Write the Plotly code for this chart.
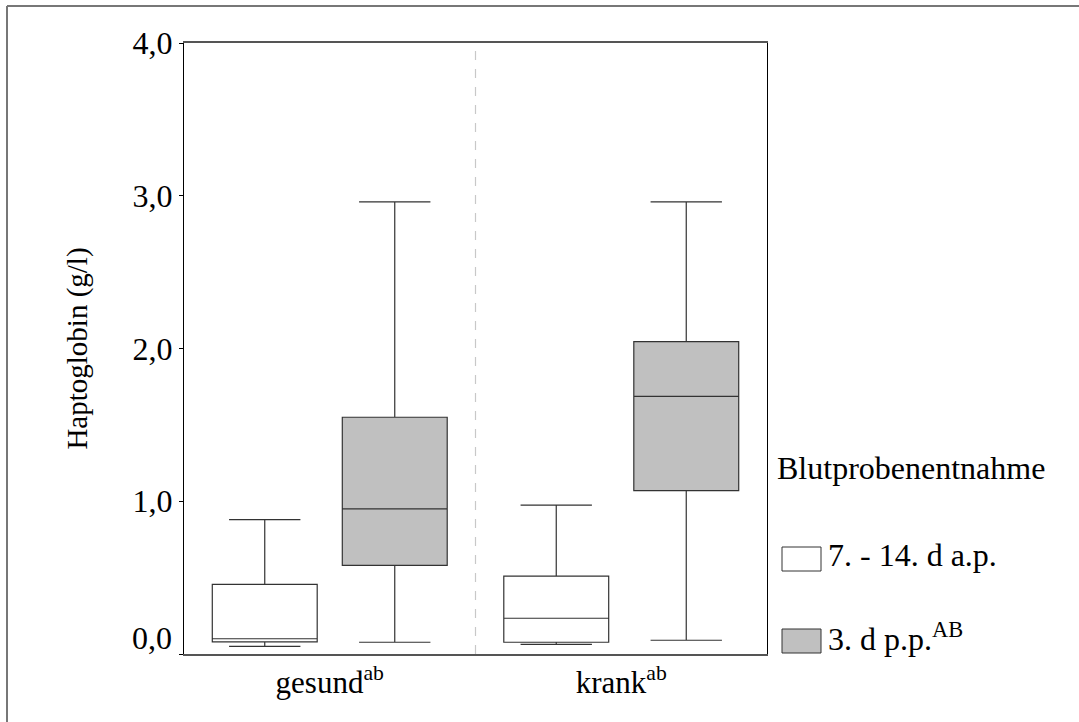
import plotly.graph_objects as go

# ---- data ----
categories = ["gesund<sup>ab</sup>", "krank<sup>ab</sup>"]
series_names = ["7. - 14. d a.p.", "3. d p.p.<sup>AB</sup>"]

# 7. - 14. d a.p.
ap_lower = [0.05, 0.063]
ap_q1 = [0.08, 0.077]
ap_median = [0.10, 0.234]
ap_q3 = [0.456, 0.51]
ap_upper = [0.88, 0.975]

# 3. d p.p.
pp_lower = [0.077, 0.09]
pp_q1 = [0.58, 1.07]
pp_median = [0.95, 1.687]
pp_q3 = [1.55, 2.045]
pp_upper = [2.96, 2.96]

y_ticks = [0, 1, 2, 3, 4]
y_ticktext = ["", "1,0", "2,0", "3,0", "4,0"]

FONT = "Liberation Serif"
W, H = 1079, 722
PL, PR, PT, PB = 184, 767, 43, 654  # plot area in pixels

def px_x(x):
    return (x - PL) / (PR - PL)

def px_y(y):
    return (PB - y) / (PB - PT)

line_col = "#333333"
fills = ["#ffffff", "#c0c0c0"]

fig = go.Figure()
for name, lo, q1, med, q3, up, fill in [
    (series_names[0], ap_lower, ap_q1, ap_median, ap_q3, ap_upper, fills[0]),
    (series_names[1], pp_lower, pp_q1, pp_median, pp_q3, pp_upper, fills[1]),
]:
    fig.add_trace(go.Box(
        name=name, x=categories,
        lowerfence=lo, q1=q1, median=med, q3=q3, upperfence=up,
        fillcolor=fill, line=dict(color=line_col, width=1.2),
        whiskerwidth=0.68, boxpoints=False, showlegend=False,
    ))

fig.update_layout(
    width=W, height=H,
    margin=dict(l=PL, r=W - PR, t=PT, b=H - PB, autoexpand=False),
    paper_bgcolor="white", plot_bgcolor="white",
    boxmode="group", boxgap=0.108, boxgroupgap=0.193,
    font=dict(family=FONT, color="black"),
    separators=",.",
    showlegend=False,
)
fig.update_xaxes(
    type="category", range=[-0.5, len(categories) - 0.5],
    showline=True, linecolor="#555555", linewidth=1.5, mirror=True,
    showgrid=False, ticks="", tickfont=dict(size=31, family=FONT, color="black"),
    zeroline=False,
)
fig.update_yaxes(
    range=[0, 4.0], tickvals=y_ticks, ticktext=y_ticktext,
    showline=True, linecolor="black", linewidth=1.2, mirror=True,
    showgrid=False, ticks="outside", ticklen=4, tickcolor="black",
    tickfont=dict(size=32, family=FONT, color="black"), zeroline=False,
    title=dict(text="Haptoglobin (g/l)",
               font=dict(size=29, family=FONT, color="black"), standoff=36),
)

# "0,0" label sits slightly above its tick in the reference
fig.add_annotation(x=0, xref="paper", xanchor="right", xshift=-10,
                   y=0.105, yref="y", yanchor="middle",
                   text="0,0", showarrow=False,
                   font=dict(size=32, family=FONT, color="black"))

# divider between groups
fig.add_shape(type="line", xref="x", yref="paper",
              x0=(len(categories) - 1) / 2, x1=(len(categories) - 1) / 2,
              y0=0, y1=1, line=dict(color="#c8c8c8", width=1.2, dash="dash"))

# outer frame (left and top lines)
fig.add_shape(type="line", xref="paper", yref="paper",
              x0=px_x(7), x1=px_x(7), y0=px_y(6), y1=px_y(H + 5),
              line=dict(color="#777777", width=2))
fig.add_shape(type="line", xref="paper", yref="paper",
              x0=px_x(7), x1=px_x(W + 5), y0=px_y(6), y1=px_y(6),
              line=dict(color="#777777", width=2))

# manual legend
fig.add_annotation(x=px_x(775), xref="paper", xanchor="left",
                   y=px_y(468), yref="paper", yanchor="middle",
                   text="Blutprobenentnahme", showarrow=False,
                   font=dict(size=32, family=FONT, color="black"))
for i, (label, fill) in enumerate(zip(series_names, fills)):
    yc = 559 + i * 82
    fig.add_shape(type="rect", xref="paper", yref="paper",
                  x0=px_x(782), x1=px_x(821), y0=px_y(yc - 12), y1=px_y(yc + 12),
                  fillcolor=fill, line=dict(color=line_col, width=1))
    fig.add_annotation(x=px_x(826), xref="paper", xanchor="left",
                       y=px_y(yc - 4), yref="paper", yanchor="middle",
                       text=label, showarrow=False,
                       font=dict(size=32, family=FONT, color="black"))

fig.write_html("out.html")
